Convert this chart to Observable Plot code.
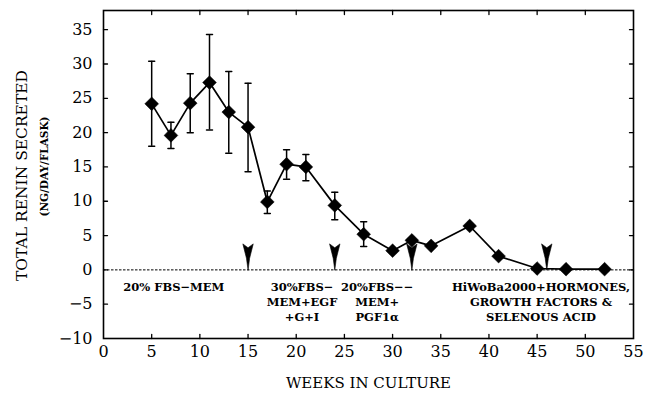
<!DOCTYPE html>
<html>
<head>
<meta charset="utf-8">
<script src="https://cdn.jsdelivr.net/npm/d3@7"></script>
<script src="https://cdn.jsdelivr.net/npm/@observablehq/plot@0.6"></script>
<style>
  html, body { margin: 0; padding: 0; background: #fff; }
  #chart svg { display: block; }
</style>
</head>
<body>
<div id="chart"></div>
<script>
// ---- data ----
const weeks  = [5, 7, 9, 11, 13, 15, 17, 19, 21, 24, 27, 30, 32, 34, 38, 41, 45, 48, 52];
const renin  = [24.2, 19.6, 24.3, 27.3, 23.0, 20.8, 9.9, 15.4, 15.0, 9.4, 5.2, 2.8, 4.3, 3.5, 6.4, 2.0, 0.2, 0.1, 0.1];
const errLo  = [6.2, 1.9, 4.3, 6.9, 6.0, 6.5, 1.7, 2.2, 2.0, 2.1, 1.8, 0, 0, 0, 0, 0, 0, 0, 0];
const errHi  = [6.2, 1.9, 4.3, 7.0, 5.9, 6.4, 1.6, 2.1, 1.8, 1.9, 1.8, 0, 0, 0, 0, 0, 0, 0, 0];
const arrowWeeks = [15, 24, 32, 46];
const phaseLabels = [
  "20% FBS\u2212MEM",
  "30%FBS\u2212\nMEM+EGF\n+G+I",
  "20%FBS\u2212\u2212\nMEM+\nPGF1\u03b1",
  "HiWoBa2000+HORMONES,\nGROWTH FACTORS &\nSELENOUS ACID"
];
const phaseX = [7.3, 20.6, 28.4, 45.4];
const xTicks = [0, 5, 10, 15, 20, 25, 30, 35, 40, 45, 50, 55];
const yTicks = [-10, -5, 0, 5, 10, 15, 20, 25, 30, 35];
const xTitle = "WEEKS IN CULTURE";
const yTitle = "TOTAL RENIN SECRETED";
const yUnits = "(NG/DAY/FLASK)";

const data = weeks.map((w, i) => ({week: w, value: renin[i], lo: renin[i] - errLo[i], hi: renin[i] + errHi[i], hasErr: errHi[i] > 0}));
const errData = data.filter(d => d.hasErr);
const phases = phaseLabels.map((t, i) => ({text: t, x: phaseX[i]}));

const Y0 = -10, Y1 = 37.8, X0 = 0, X1 = 55;

// shapes for vector marks
const lineShape = {draw(ctx, l) { ctx.moveTo(0, 0); ctx.lineTo(0, -l); }};
const capShape = {draw(ctx, l) { ctx.moveTo(-l / 2, 0); ctx.lineTo(l / 2, 0); }};
const arrowShape = {draw(ctx, l, r) {
  ctx.moveTo(0, 0);
  ctx.lineTo(-1.6, -l * 0.45);
  ctx.lineTo(-5.2, -l);
  ctx.lineTo(0, -l * 0.85);
  ctx.lineTo(5.2, -l);
  ctx.lineTo(1.6, -l * 0.45);
  ctx.closePath();
}};

const font = "DejaVu Serif";
const chart = Plot.plot({
  width: 646,
  height: 396,
  marginLeft: 103,
  marginRight: 13,
  marginTop: 10,
  marginBottom: 58,
  style: {fontFamily: font, fontSize: "16px", color: "black", background: "white"},
  x: {domain: [X0, X1]},
  y: {domain: [Y0, Y1]},
  marks: [
    // zero reference line
    Plot.ruleY([0], {stroke: "black", strokeWidth: 1, strokeDasharray: "2.5,1.5"}),
    // inward tick marks on all four sides
    Plot.vector(xTicks.slice(1, -1), {x: d => d, y: Y0, length: 4, shape: lineShape, anchor: "start", stroke: "black", strokeWidth: 1.3}),
    Plot.vector(xTicks.slice(1, -1), {x: d => d, y: Y1, length: 4, rotate: 180, shape: lineShape, anchor: "start", stroke: "black", strokeWidth: 1.3}),
    Plot.vector(yTicks.slice(1), {x: X0, y: d => d, length: 4, rotate: 90, shape: lineShape, anchor: "start", stroke: "black", strokeWidth: 1.3}),
    Plot.vector(yTicks.slice(1), {x: X1, y: d => d, length: 4, rotate: -90, shape: lineShape, anchor: "start", stroke: "black", strokeWidth: 1.3}),
    // tick labels
    Plot.axisX({ticks: xTicks, tickSize: 0, tickPadding: 7, label: null, fontSize: 16, tickFormat: d => String(d)}),
    Plot.axisY({ticks: yTicks, tickSize: 0, tickPadding: 11, label: null, fontSize: 16}),
    // titles
    Plot.text([xTitle], {frameAnchor: "bottom", dy: 45, fontSize: 15, lineAnchor: "middle", textAnchor: "middle", fill: "black"}),
    Plot.text([yTitle], {frameAnchor: "left", dx: -81, dy: 1, rotate: -90, fontSize: 15.5, lineAnchor: "middle", textAnchor: "middle", fill: "black"}),
    Plot.text([yUnits], {frameAnchor: "left", dx: -59, dy: -8, rotate: -90, fontSize: 10.5, fontWeight: "bold", lineAnchor: "middle", textAnchor: "middle", fill: "black"}),
    // phase annotations
    Plot.text(phases, {x: "x", y: -1.6, text: "text", lineAnchor: "top", lineHeight: 1.3, fontSize: 11.5, fontWeight: "bold", fill: "black"}),
    // medium change arrows
    Plot.vector(arrowWeeks, {x: d => d, y: 0, length: 26, shape: arrowShape, anchor: "start", fill: "black", stroke: "black", strokeWidth: 0.6}),
    // error bars
    Plot.ruleX(errData, {x: "week", y1: "lo", y2: "hi", stroke: "black", strokeWidth: 1.5}),
    Plot.vector(errData, {x: "week", y: "lo", length: 6, shape: capShape, anchor: "start", stroke: "black", strokeWidth: 1.5}),
    Plot.vector(errData, {x: "week", y: "hi", length: 6, shape: capShape, anchor: "start", stroke: "black", strokeWidth: 1.5}),
    // series
    Plot.line(data, {x: "week", y: "value", stroke: "black", strokeWidth: 1.7}),
    Plot.dot(data, {x: "week", y: "value", symbol: "diamond2", r: 6.2, fill: "black", stroke: "black", strokeWidth: 0.5}),
    Plot.frame({stroke: "black", strokeWidth: 1.6})
  ]
});
document.getElementById("chart").append(chart);
</script>
</body>
</html>
